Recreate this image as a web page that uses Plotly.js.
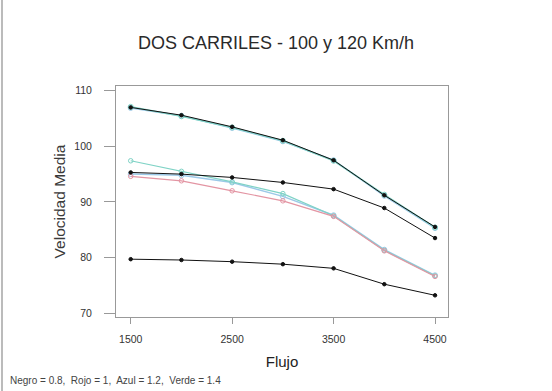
<!DOCTYPE html>
<html><head><meta charset="utf-8">
<script src="https://cdn.plot.ly/plotly-3.0.1.min.js"></script>
<style>html,body{margin:0;padding:0;background:#fff}#chart{width:552px;height:391px}</style>
</head><body><div id="chart"></div>
<script>
const flujo = [1500, 2000, 2500, 3000, 3500, 4000, 4500];
// upper group
const topNegro = [107.0, 105.6, 103.5, 101.1, 97.5, 91.2, 85.5];
const topVerde = [107.1, 105.4, 103.4, 101.0, 97.4, 91.3, 85.4];
const topAzul  = [106.9, 105.5, 103.3, 100.9, 97.5, 91.1, 85.3];
// middle group
const midNegro = [95.3, 95.0, 94.4, 93.5, 92.3, 88.9, 83.5];
const midVerde = [97.4, 95.5, 93.6, 91.5, 87.5, 81.3, 76.7];
const midAzul  = [95.0, 94.8, 93.5, 91.0, 87.6, 81.4, 76.8];
const midRojo  = [94.6, 93.8, 92.0, 90.2, 87.4, 81.2, 76.6];
// lower group
const lowNegro = [79.7, 79.55, 79.25, 78.8, 78.05, 75.2, 73.2];

const xTicks = [1500, 2500, 3500, 4500];
const yTicks = [70, 80, 90, 100, 110];

const cVerde = '#7fd3c6', cAzul = '#9cc9e8', cRojo = '#e395a3', cNegro = '#111111';

function tr(y, color, width, msize, symbol) {
  return {x: flujo, y: y, type: 'scatter', mode: 'lines+markers',
    line: {color: color, width: width},
    marker: {color: color, size: msize, symbol: symbol, line: {color: color, width: 1}},
    showlegend: false, hoverinfo: 'skip'};
}

const data = [
  tr(topAzul, cAzul, 1.5, 5, 'circle-open'),
  tr(topVerde, cVerde, 1.5, 5, 'circle-open'),
  tr(topNegro, cNegro, 1, 3.5, 'circle'),
  tr(midAzul, cAzul, 1.5, 5, 'circle-open'),
  tr(midVerde, cVerde, 1.2, 4.5, 'circle-open'),
  tr(midRojo, cRojo, 1.2, 4.5, 'circle-open'),
  tr(midNegro, cNegro, 1, 3.5, 'circle'),
  tr(lowNegro, cNegro, 1, 3.5, 'circle')
];

const layout = {
  width: 552, height: 391,
  margin: {l: 116, r: 104, t: 86, b: 74, pad: 0},
  paper_bgcolor: '#ffffff', plot_bgcolor: '#ffffff',
  font: {family: 'Liberation Sans, Arial, sans-serif', color: '#222', size: 10},
  title: {text: 'DOS CARRILES - 100 y 120 Km/h', x: 0.5, xanchor: 'center', y: 0.89, yanchor: 'middle',
    font: {family: 'Liberation Sans, Arial, sans-serif', size: 18, color: '#2a2a2a'}},
  xaxis: {range: [1355, 4628], tickvals: xTicks, ticktext: xTicks.map(String),
    showgrid: false, zeroline: false, showline: true, linecolor: '#999', linewidth: 1, mirror: true,
    ticks: 'outside', ticklen: 6, tickcolor: '#999', ticklabelstandoff: 6,
    tickfont: {size: 10.5, color: '#333'},
    title: {text: 'Flujo', font: {size: 15, color: '#222'}, standoff: 12}},
  yaxis: {range: [69.3, 110.85], tickvals: yTicks, ticktext: yTicks.map(String),
    showgrid: false, zeroline: false, showline: true, linecolor: '#999', linewidth: 1, mirror: true,
    ticks: 'outside', ticklen: 11, tickcolor: '#999', ticklabelstandoff: 10,
    tickfont: {size: 10.5, color: '#333'},
    title: {text: 'Velocidad Media', font: {size: 15.5, color: '#3a3a3a'}, standoff: 4}},
  shapes: [
    {type: 'line', xref: 'paper', yref: 'paper', x0: -0.2029, x1: 1.19, y0: 1.3766, y1: 1.3766,
      line: {color: '#aaa', width: 1.5}},
    {type: 'line', xref: 'paper', yref: 'paper', x0: -0.3434, x1: -0.3434, y0: 1.3766, y1: -0.35,
      line: {color: '#bbb', width: 2}}
  ],
  annotations: [
    {text: 'Negro = 0.8,  Rojo = 1,  Azul = 1.2,  Verde = 1.4', xref: 'paper', yref: 'paper',
      x: -0.325, xanchor: 'left', y: -0.277, yanchor: 'middle', showarrow: false,
      font: {size: 10, color: '#444'}}
  ]
};

Plotly.newPlot('chart', data, layout, {displayModeBar: false, staticPlot: true});
</script></body></html>
